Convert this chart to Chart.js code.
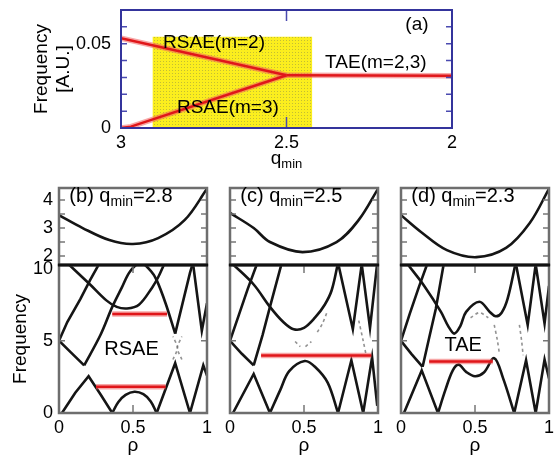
<!DOCTYPE html>
<html>
<head>
<meta charset="utf-8">
<script src="https://cdn.jsdelivr.net/npm/chart.js@4.4.1/dist/chart.umd.min.js"></script>
<style>
  body { margin: 0; background: #fff; }
  #wrap { position: relative; width: 555px; height: 457px; overflow: hidden; }
  canvas { position: absolute; }
</style>
</head>
<body>
<div id="wrap">
  <canvas id="ca" width="555" height="175" style="left:0px;top:0px"></canvas>
  <canvas id="bl" width="215" height="207" style="left:0px;top:250px"></canvas>
  <canvas id="cl" width="170" height="199" style="left:215px;top:258px"></canvas>
  <canvas id="dl" width="170" height="199" style="left:385px;top:258px"></canvas>
  <canvas id="bu" width="215" height="90" style="left:0px;top:180px"></canvas>
  <canvas id="cu" width="170" height="90" style="left:215px;top:180px"></canvas>
  <canvas id="du" width="170" height="90" style="left:385px;top:180px"></canvas>
</div>
<script>
// tick labels
const qTicks = [3, 2.5, 2];
const fTicksA = [0, 0.05];
const rhoTicks = [0, 0.5, 1];
const fTicksUp = [2, 3, 4];
const fTicksLow = [0, 5, 10];

// (a) mode frequency vs q_min
const rsae2 = [[3, 0.0533], [2.5, 0.0313]];
const rsae3 = [[3, 0], [2.97, 0.0008], [2.5, 0.0313]];
const tae23 = [[2.5, 0.0313], [2, 0.031]];
const yellowBox = [[2.905, 0.0542], [2.422, 0.0542]];

// (b) q_min = 2.8
const bUp = [[0, 3.46], [0.16, 3.0], [0.34, 2.57], [0.5, 2.43], [0.67, 2.64], [0.85, 3.29], [1, 4.4]];
const bRise = [[0, 5], [0.056, 6.3], [0.145, 7.9], [0.21, 9.2], [0.275, 10.4]];
const bBowl = [[0.065, 10.3], [0.21, 8.9], [0.32, 7.8], [0.39, 7.35], [0.46, 7.24], [0.54, 7.5], [0.63, 8.7], [0.67, 9.4], [0.715, 10.4]];
const bFall = [[0, 5], [0.08, 4.2], [0.17, 3.3]];
const bArch = [[0.17, 3.3], [0.28, 5.4], [0.36, 7.35], [0.425, 8.7], [0.48, 9.8], [0.55, 10.4], [0.62, 9.85], [0.66, 9.2], [0.72, 7.6], [0.785, 5.5]];
const bSpikes = [[0.785, 5.5], [0.885, 9.7], [0.905, 10.4]];
const bEdge = [[0.905, 10.4], [0.965, 5.7], [1, 7.6]];
const bBase = [[0.02, 0], [0.11, 1.4], [0.2, 2.55], [0.28, 1.3], [0.36, 0]];
const bHump = [[0.36, 0], [0.4, 0.75], [0.45, 1.25], [0.51, 1.47], [0.57, 1.3], [0.62, 0.8], [0.66, 0]];
const bTeeth = [[0.66, 0], [0.785, 3.45], [0.885, 0], [0.975, 3.3], [1, 2.6]];
const bGapUp = [[0.36, 6.85], [0.73, 6.85]];
const bGapLo = [[0.25, 1.82], [0.72, 1.82]];
const bFaint1 = [[0.77, 3.7], [0.8, 4.5], [0.77, 5.3]];
const bFaint2 = [[0.83, 3.7], [0.8, 4.5], [0.83, 5.3]];

// (c) q_min = 2.5
const cUp = [[0, 3.54], [0.16, 3.0], [0.27, 2.5], [0.49, 2.14], [0.72, 2.5], [0.87, 3.29], [1, 4.4]];
const cRise = [[0, 5], [0.06, 6.8], [0.12, 8.6], [0.185, 10.4]];
const cFall = [[0, 5], [0.08, 4.1], [0.16, 3.3]];
const cSteep = [[0.16, 3.3], [0.22, 5.4], [0.27, 7.35], [0.35, 10.4]];
const cBowl = [[0.02, 10.3], [0.16, 8.9], [0.27, 7.35], [0.36, 6.3], [0.43, 5.8], [0.5, 5.9], [0.574, 6.6], [0.64, 7.5], [0.687, 8.5], [0.73, 10.4]];
const cSpikes = [[0.73, 10.4], [0.83, 5.8], [0.89, 10.3], [0.946, 5.9], [0.995, 10.4]];
const cBase = [[0.02, 0], [0.16, 2.7], [0.27, 0]];
const cHump = [[0.27, 0], [0.34, 1.6], [0.4, 2.9], [0.505, 3.6], [0.574, 3.2], [0.66, 2.1], [0.73, 0]];
const cTeeth = [[0.73, 0], [0.82, 3.65], [0.9, 0], [0.96, 3.85], [0.995, 0.5]];
const cGap = [[0.21, 3.98], [0.955, 3.98]];
const cFaint1 = [[0.44, 4.95], [0.475, 4.6]];
const cFaint2 = [[0.51, 4.6], [0.55, 4.95]];
const cFaint3 = [[0.59, 5.6], [0.625, 6.2], [0.66, 7.1]];
const cFaint4 = [[0.87, 6.4], [0.9, 5.0], [0.92, 4.0]];

// (d) q_min = 2.3
const dUp = [[0, 3.46], [0.135, 2.86], [0.31, 2.21], [0.51, 1.96], [0.71, 2.29], [0.87, 3.18], [1, 4.4]];
const dRise = [[0, 5], [0.06, 6.9], [0.12, 8.7], [0.18, 10.4]];
const dFall = [[0, 5], [0.07, 4.1], [0.146, 3.2]];
const dSteep = [[0.146, 3.2], [0.19, 5.2], [0.235, 7.2], [0.29, 10.4]];
const dWave = [[0.045, 10.3], [0.157, 8.8], [0.27, 7.0], [0.32, 6.0], [0.36, 5.5], [0.4, 6.0], [0.44, 7.0], [0.53, 7.7], [0.6, 7.0], [0.64, 6.7], [0.68, 6.95], [0.72, 7.9], [0.775, 10.4]];
const dSpikes = [[0.775, 10.4], [0.856, 6.1], [0.91, 10.3], [0.97, 6.2], [1, 8.8]];
const dBase = [[0.02, 0], [0.14, 2.95], [0.25, 0]];
const dWaveLo = [[0.25, 0], [0.3, 1.6], [0.35, 2.95], [0.39, 3.35], [0.44, 2.85], [0.5, 2.55], [0.56, 2.8], [0.63, 3.8], [0.69, 2.4], [0.765, 0]];
const dTeeth = [[0.765, 0], [0.845, 3.65], [0.91, 0], [0.97, 3.7], [1, 2.4]];
const dGap = [[0.19, 3.57], [0.62, 3.57]];
const dFaint1 = [[0.47, 6.6], [0.53, 6.95], [0.59, 6.6]];
const dFaint2 = [[0.63, 6.1], [0.65, 5.1], [0.665, 4.1]];
const dFaint3 = [[0.8, 6.1], [0.815, 5.0], [0.825, 4.0]];

Chart.defaults.font.family = "'Liberation Sans', Arial, sans-serif";
Chart.defaults.color = '#000';

function pts(a) { return a.map(p => ({ x: p[0], y: p[1] })); }
function black(a, smooth) {
  return { data: pts(a), borderColor: '#151515', borderWidth: 2.6, tension: smooth ? 0.35 : 0, pointRadius: 0, order: 3 };
}
function gray(a) {
  return { data: pts(a), borderColor: 'rgba(110,110,110,0.75)', borderWidth: 1.6, borderDash: [3, 3], tension: 0.3, pointRadius: 0, order: 4 };
}
function red(a, w) {
  return [
    { data: pts(a), borderColor: '#e0161a', borderWidth: w, pointRadius: 0, order: 0 },
    { data: pts(a), borderColor: 'rgba(240,95,95,0.55)', borderWidth: w + 3, pointRadius: 0, order: 1 }
  ];
}

// yellow with tiny dots
const pc = document.createElement('canvas');
pc.width = 3; pc.height = 3;
const pctx = pc.getContext('2d');
pctx.fillStyle = '#fbee1e'; pctx.fillRect(0, 0, 3, 3);
pctx.fillStyle = 'rgba(150,150,70,0.55)'; pctx.fillRect(1, 1, 1, 1);
const yellowFill = pctx.createPattern(pc, 'repeat');

function drawParts(ctx, t, px, py) {
  let w = 0;
  t.s.forEach(p => { ctx.font = p[1] + "px 'Liberation Sans', Arial, sans-serif"; w += ctx.measureText(p[0]).width; });
  let cx = t.align === 'left' ? px : px - w / 2;
  ctx.textBaseline = 'middle';
  ctx.textAlign = 'left';
  ctx.fillStyle = '#000';
  t.s.forEach(p => {
    ctx.font = p[1] + "px 'Liberation Sans', Arial, sans-serif";
    ctx.fillText(p[0], cx, py + (p[2] || 0));
    cx += ctx.measureText(p[0]).width;
  });
}

const decor = {
  id: 'decor',
  afterDatasetsDraw(chart, args, o) {
    const { ctx, chartArea: a } = chart;
    const x = chart.scales.x, y = chart.scales.y;
    ctx.save();
    ctx.strokeStyle = o.tickColor;
    ctx.lineWidth = 1.5;
    ctx.beginPath();
    (o.xt || []).forEach(v => {
      const p = x.getPixelForValue(v);
      ctx.moveTo(p, a.bottom); ctx.lineTo(p, a.bottom - o.xtl);
      ctx.moveTo(p, a.top); ctx.lineTo(p, a.top + o.xtl);
    });
    (o.yt || []).forEach(v => {
      const p = y.getPixelForValue(v);
      ctx.moveTo(a.left, p); ctx.lineTo(a.left + o.ytl, p);
      ctx.moveTo(a.right, p); ctx.lineTo(a.right - o.ytl, p);
    });
    ctx.stroke();
    ctx.strokeStyle = o.frame;
    ctx.lineWidth = o.fw;
    ctx.strokeRect(a.left, a.top, a.width, a.height);
    if (o.bottomLine) {
      ctx.strokeStyle = o.bottomLine;
      ctx.lineWidth = 3;
      ctx.beginPath(); ctx.moveTo(a.left - 1, a.bottom); ctx.lineTo(a.right + 1, a.bottom); ctx.stroke();
    }
    (o.texts || []).forEach(t => {
      const px = x.getPixelForValue(t.x);
      const py = t.below !== undefined ? a.bottom + t.below : y.getPixelForValue(t.y);
      drawParts(ctx, t, px, py);
    });
    ctx.restore();
  }
};

function axis(o) {
  return {
    type: 'linear', min: o.min, max: o.max, reverse: !!o.reverse, display: o.show !== false,
    grid: { display: false, drawTicks: false }, border: { display: false },
    ticks: { display: !!o.ticks, font: { size: 18 }, padding: o.pad || 4, autoSkip: false, maxRotation: 0, callback: v => String(v) },
    afterBuildTicks: s => { s.ticks = (o.ticks || []).map(v => ({ value: v })); },
    afterFit: s => {
      if (o.size !== undefined) { if (s.isHorizontal()) s.height = o.size; else s.width = o.size; }
      s.paddingTop = 0; s.paddingBottom = 0; s.paddingLeft = 0; s.paddingRight = 0;
    },
    title: o.title ? { display: true, text: o.title, font: { size: 19 }, padding: o.tpad || 0 } : { display: false }
  };
}

function make(id, datasets, xo, yo, pad, deco) {
  return new Chart(document.getElementById(id), {
    type: 'line',
    data: { datasets: datasets },
    options: {
      responsive: false, animation: false, events: [],
      layout: { padding: pad },
      plugins: { legend: { display: false }, tooltip: { enabled: false }, decor: deco },
      scales: { x: axis(xo), y: axis(yo) }
    },
    plugins: [decor]
  });
}

// ---- (a) ----
make('ca', [
  ...red(rsae2, 2.5), ...red(rsae3, 2.5), ...red(tae23, 2.5),
  { data: pts(yellowBox), borderWidth: 0, borderColor: 'rgba(0,0,0,0)', backgroundColor: yellowFill, fill: 'origin', pointRadius: 0, order: 9 }
],
  { min: 2, max: 3, reverse: true, ticks: qTicks, size: 47, pad: 4 },
  { min: 0, max: 0.07, ticks: fTicksA, size: 91, pad: 10, title: ['Frequency', '[A.U.]'] },
  { left: 30, right: 103, top: 10, bottom: 0 },
  {
    frame: '#34349c', fw: 2, tickColor: '#4a4ab0', xt: [2.5], xtl: 11, yt: [0.01, 0.02, 0.03, 0.04, 0.05, 0.06], ytl: 6,
    texts: [
      { x: 2.106, y: 0.0611, s: [['(a)', 19]] },
      { x: 2.719, y: 0.0504, s: [['RSAE(m=2)', 19]] },
      { x: 2.23, y: 0.0386, s: [['TAE(m=2,3)', 19]] },
      { x: 2.677, y: 0.0119, s: [['RSAE(m=3)', 19]] },
      { x: 2.5, below: 31, s: [['q', 19], ['min', 13, 5]] }
    ]
  });

// ---- lower sub-panels ----
const lowDeco = { frame: '#6e6e6e', fw: 2.5, tickColor: '#777', xt: [0.5], xtl: 8, yt: [5], ytl: 6 };
const rhoTitle = { tpad: { top: 0, bottom: 0 }, title: 'ρ' };
const lowMax = 10.25;

make('bl', [
  black(bRise), black(bBowl, true), black(bFall), black(bArch, true), black(bSpikes), black(bEdge),
  black(bBase), black(bHump, true), black(bTeeth), gray(bFaint1), gray(bFaint2),
  ...red(bGapUp, 2.5), ...red(bGapLo, 2.5)
],
  Object.assign({ min: 0, max: 1, ticks: rhoTicks, size: 44, pad: 4 }, rhoTitle),
  { min: 0, max: lowMax, ticks: fTicksLow, size: 50, pad: 6, title: 'Frequency' },
  { left: 9, right: 8, top: 15, bottom: 0 },
  Object.assign({}, lowDeco, { texts: [{ x: 0.49, y: 4.4, s: [['RSAE', 20]] }] }));

make('cl', [
  black(cRise), black(cFall), black(cSteep), black(cBowl, true), black(cSpikes),
  black(cBase), black(cHump, true), black(cTeeth),
  gray(cFaint1), gray(cFaint2), gray(cFaint3), gray(cFaint4),
  ...red(cGap, 2.5)
],
  Object.assign({ min: 0, max: 1, ticks: rhoTicks, size: 44, pad: 4 }, rhoTitle),
  { min: 0, max: lowMax, show: false },
  { left: 15, right: 7, top: 7, bottom: 0 },
  lowDeco);

make('dl', [
  black(dRise), black(dFall), black(dSteep), black(dWave, true), black(dSpikes),
  black(dBase), black(dWaveLo, true), black(dTeeth),
  gray(dFaint1), gray(dFaint2), gray(dFaint3),
  ...red(dGap, 2.5)
],
  Object.assign({ min: 0, max: 1, ticks: rhoTicks, size: 44, pad: 4 }, rhoTitle),
  { min: 0, max: lowMax, show: false },
  { left: 16, right: 6, top: 7, bottom: 0 },
  Object.assign({}, lowDeco, { texts: [{ x: 0.42, y: 4.66, s: [['TAE', 20]] }] }));

// ---- upper sub-panels ----
const upDeco = { frame: '#6e6e6e', fw: 2.5, tickColor: '#777', yt: [2, 2.5, 3, 3.5, 4], ytl: 6, bottomLine: '#111' };
function label(letter, q) {
  return [{ x: 0.07, y: 4.11, align: 'left', s: [['(' + letter + ') q', 20], ['min', 14, 5], ['=' + q, 20]] }];
}

make('bu', [black(bUp, true)],
  { min: 0, max: 1, show: false },
  { min: 1.68, max: 4.43, ticks: fTicksUp, size: 50, pad: 6 },
  { left: 9, right: 8, top: 8, bottom: 5 },
  Object.assign({}, upDeco, { texts: label('b', '2.8') }));

make('cu', [black(cUp, true)],
  { min: 0, max: 1, show: false },
  { min: 1.68, max: 4.43, show: false },
  { left: 15, right: 7, top: 8, bottom: 5 },
  Object.assign({}, upDeco, { texts: label('c', '2.5') }));

make('du', [black(dUp, true)],
  { min: 0, max: 1, show: false },
  { min: 1.68, max: 4.43, show: false },
  { left: 16, right: 6, top: 8, bottom: 5 },
  Object.assign({}, upDeco, { texts: label('d', '2.3') }));
</script>
</body>
</html>
